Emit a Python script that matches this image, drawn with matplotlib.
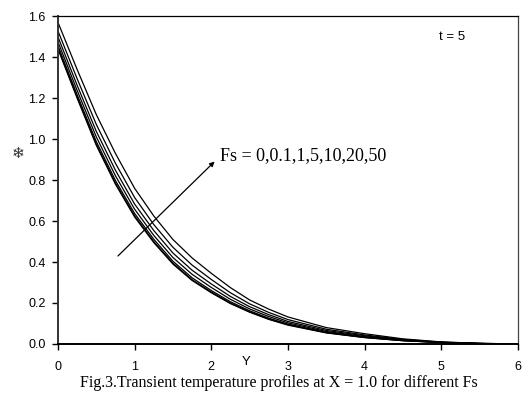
import matplotlib
matplotlib.use("Agg")
import matplotlib.pyplot as plt

y_pos = [0, 0.25, 0.5, 0.75, 1.0, 1.25, 1.5, 1.75, 2.0, 2.25, 2.5, 2.75, 3.0, 3.5, 4.0, 4.5, 5.0, 5.5, 6.0]

# temperature profiles for each Fs
fs_0 = [1.440, 1.200, 0.970, 0.780, 0.620, 0.495, 0.390, 0.310, 0.250, 0.197, 0.155, 0.120, 0.092, 0.054, 0.031, 0.016, 0.007, 0.002, 0]
fs_01 = [1.445, 1.206, 0.976, 0.786, 0.626, 0.500, 0.395, 0.314, 0.254, 0.200, 0.157, 0.122, 0.094, 0.055, 0.032, 0.016, 0.007, 0.002, 0]
fs_1 = [1.456, 1.217, 0.988, 0.798, 0.637, 0.511, 0.404, 0.323, 0.261, 0.206, 0.162, 0.126, 0.097, 0.057, 0.033, 0.017, 0.007, 0.002, 0]
fs_5 = [1.475, 1.238, 1.011, 0.821, 0.658, 0.530, 0.422, 0.340, 0.276, 0.218, 0.171, 0.134, 0.103, 0.061, 0.036, 0.018, 0.008, 0.002, 0]
fs_10 = [1.499, 1.263, 1.038, 0.848, 0.683, 0.554, 0.444, 0.360, 0.293, 0.232, 0.182, 0.143, 0.110, 0.066, 0.040, 0.020, 0.008, 0.002, 0]
fs_20 = [1.528, 1.295, 1.072, 0.882, 0.715, 0.583, 0.472, 0.385, 0.315, 0.250, 0.196, 0.154, 0.119, 0.072, 0.044, 0.022, 0.009, 0.003, 0]
fs_50 = [1.570, 1.340, 1.120, 0.930, 0.760, 0.625, 0.510, 0.420, 0.345, 0.275, 0.215, 0.170, 0.132, 0.080, 0.050, 0.025, 0.010, 0.003, 0]
profiles = [fs_0, fs_01, fs_1, fs_5, fs_10, fs_20, fs_50]

x_ticks = [0, 1, 2, 3, 4, 5, 6]
y_ticks = [0.0, 0.2, 0.4, 0.6, 0.8, 1.0, 1.2, 1.4, 1.6]

fig = plt.figure(figsize=(5.22, 3.94), dpi=100)
ax = fig.add_axes([0.111, 0.127, 0.881, 0.832])

for prof in profiles:
    ax.plot(y_pos, prof, color="black", lw=0.9)

ax.set_xlim(0, 6)
ax.set_ylim(0, 1.6)
ax.set_xticks(x_ticks)
ax.set_yticks(y_ticks)
ax.set_yticklabels([f"{v:.1f}" for v in y_ticks])
ax.tick_params(axis="x", length=4, width=1, pad=8, labelsize=9)
ax.tick_params(axis="y", length=4, width=1, pad=5, labelsize=9)
for lab in ax.get_xticklabels() + ax.get_yticklabels():
    lab.set_fontfamily("Liberation Sans")

ax.spines["left"].set_linewidth(1.4)
ax.spines["bottom"].set_linewidth(1.4)
ax.spines["left"].set_color("#333333")
ax.spines["top"].set_linewidth(0.9)
ax.spines["right"].set_linewidth(0.9)
ax.spines["right"].set_color("#444444")

# arrow showing increasing Fs
ax.annotate("", xy=(2.07, 0.90), xytext=(0.757, 0.42),
            arrowprops=dict(arrowstyle="-|>", color="black", lw=0.9, mutation_scale=7))
ax.text(2.11, 0.92, "Fs = 0,0.1,1,5,10,20,50", fontsize=13, family="Liberation Serif", va="center", ha="left")
ax.text(5.14, 1.5, "t = 5", fontsize=9.5, family="Liberation Sans", va="center", ha="center")

fig.text(246 / 522, 1 - 362 / 394, "Y", fontsize=9.5, family="Liberation Sans", ha="center", va="center")
fig.text(18 / 522, 1 - 153 / 394, "\u2744", fontsize=11, family="DejaVu Sans", ha="center", va="center", color="#333333")
fig.text(0.535, 1 - 383 / 394, "Fig.3.Transient temperature profiles at X = 1.0 for different Fs",
         fontsize=11.5, family="Liberation Serif", ha="center", va="center")

fig.savefig("out.png", dpi=100)
